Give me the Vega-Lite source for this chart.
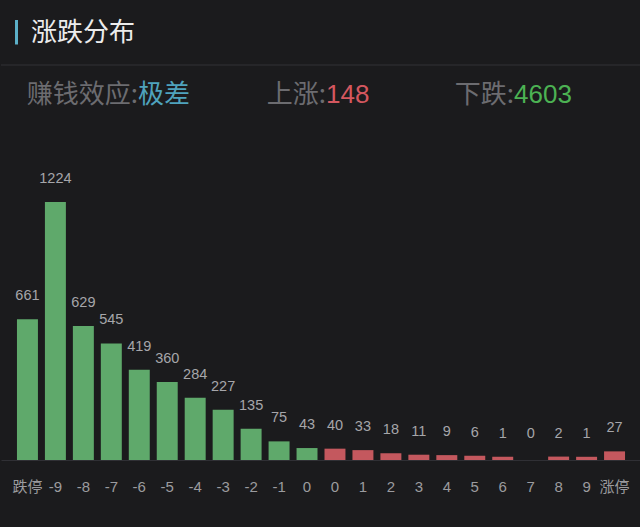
{
  "$schema": "https://vega.github.io/schema/vega-lite/v6.json",
  "background": "#1b1b1d",
  "padding": {"left": 0, "right": 0, "top": 0, "bottom": 40},
  "spacing": 0,
  "config": {
    "view": {"stroke": null},
    "concat": {"spacing": 0},
    "font": "Liberation Sans, Noto Sans CJK SC"
  },
  "datasets": {
    "bins": [
      {"bin": "跌停", "count": 661, "side": "down"},
      {"bin": "-9", "count": 1224, "side": "down"},
      {"bin": "-8", "count": 629, "side": "down"},
      {"bin": "-7", "count": 545, "side": "down"},
      {"bin": "-6", "count": 419, "side": "down"},
      {"bin": "-5", "count": 360, "side": "down"},
      {"bin": "-4", "count": 284, "side": "down"},
      {"bin": "-3", "count": 227, "side": "down"},
      {"bin": "-2", "count": 135, "side": "down"},
      {"bin": "-1", "count": 75, "side": "down"},
      {"bin": "-0", "count": 43, "side": "down"},
      {"bin": "+0", "count": 40, "side": "up"},
      {"bin": "1", "count": 33, "side": "up"},
      {"bin": "2", "count": 18, "side": "up"},
      {"bin": "3", "count": 11, "side": "up"},
      {"bin": "4", "count": 9, "side": "up"},
      {"bin": "5", "count": 6, "side": "up"},
      {"bin": "6", "count": 1, "side": "up"},
      {"bin": "7", "count": 0, "side": "up"},
      {"bin": "8", "count": 2, "side": "up"},
      {"bin": "9", "count": 1, "side": "up"},
      {"bin": "涨停", "count": 27, "side": "up"}
    ],
    "stats": [
      {"stat": "赚钱效应", "label": "赚钱效应:", "value": "极差"},
      {"stat": "上涨", "label": "上涨:", "value": "148"},
      {"stat": "下跌", "label": "下跌:", "value": "4603"}
    ],
    "heading": [
      {"row": "title", "text": "涨跌分布", "anchor": "赚钱效应"}
    ],
    "divider": [
      {"row": "sep"}
    ]
  },
  "vconcat": [
    {
      "width": 640,
      "height": 126,
      "layer": [
        {
          "data": {"name": "divider"},
          "mark": {"type": "rule", "color": "#2b2b2e", "strokeWidth": 1.5, "yOffset": 2},
          "encoding": {
            "y": {"field": "row", "type": "nominal", "axis": null, "scale": {"type": "point", "domain": ["title", "sep", "stats"], "padding": 1.1}}
          }
        },
        {
          "data": {"name": "heading"},
          "mark": {"type": "rule", "color": "#5cb0c8", "strokeWidth": 3, "xOffset": -121.5, "yOffset": -11.5, "y2Offset": 13},
          "encoding": {
            "x": {"field": "anchor", "type": "nominal", "axis": null, "scale": {"type": "point", "domain": ["赚钱效应", "上涨", "下跌"], "padding": 0.7021, "align": 0.519}},
            "y": {"field": "row", "type": "nominal", "axis": null, "scale": {"type": "point", "domain": ["title", "sep", "stats"], "padding": 1.1}},
            "y2": {"field": "row"}
          }
        },
        {
          "data": {"name": "heading"},
          "mark": {"type": "text", "align": "right", "baseline": "middle", "dx": -3, "dy": 1.5, "fontSize": 26, "color": "#ececec", "font": "Noto Sans CJK SC"},
          "encoding": {
            "x": {"field": "anchor", "type": "nominal", "axis": null},
            "y": {"field": "row", "type": "nominal", "axis": null},
            "text": {"field": "text"}
          }
        },
        {
          "data": {"name": "stats"},
          "mark": {"type": "text", "align": "right", "baseline": "middle", "fontSize": 26, "color": "#6c6c70", "font": "Noto Sans CJK SC"},
          "encoding": {
            "x": {"field": "stat", "type": "nominal", "axis": null},
            "y": {"datum": "stats", "type": "nominal", "axis": null},
            "text": {"field": "label"}
          }
        },
        {
          "data": {"name": "stats"},
          "mark": {"type": "text", "align": "left", "baseline": "middle", "fontSize": 26},
          "encoding": {
            "x": {"field": "stat", "type": "nominal", "axis": null},
            "y": {"datum": "stats", "type": "nominal", "axis": null},
            "text": {"field": "value"},
            "color": {
              "field": "stat",
              "type": "nominal",
              "legend": null,
              "scale": {"domain": ["赚钱效应", "上涨", "下跌"], "range": ["#4fa3bd", "#d4575f", "#4cb253"]}
            }
          }
        }
      ],
      "resolve": {"scale": {"x": "shared", "y": "shared"}}
    },
    {
      "width": 640,
      "height": 334,
      "data": {"name": "bins"},
      "encoding": {
        "x": {
          "field": "bin",
          "type": "ordinal",
          "sort": null,
          "scale": {"paddingInner": 0.25, "paddingOuter": 0.571},
          "axis": {
            "title": null,
            "ticks": false,
            "domain": true,
            "domainColor": "#303035",
            "labelAngle": 0,
            "labelFontSize": 15,
            "labelColor": "#9b9b9f",
            "labelPadding": 26,
            "labelBaseline": "middle",
            "labelFont": "Liberation Sans, Noto Sans CJK SC",
            "labelExpr": "datum.value == '-0' || datum.value == '+0' ? '0' : datum.value"
          }
        }
      },
      "layer": [
        {
          "mark": {"type": "bar", "yOffset": -3},
          "encoding": {
            "y": {"field": "count", "type": "quantitative", "scale": {"domain": [0, 1603], "nice": false, "zero": true}, "axis": null},
            "y2": {"datum": 0},
            "color": {
              "field": "side",
              "type": "nominal",
              "legend": null,
              "scale": {"domain": ["down", "up"], "range": ["#5fa96b", "#c4585e"]}
            },
            "opacity": {"condition": {"test": "datum.count == 0", "value": 0}, "value": 1}
          }
        },
        {
          "mark": {"type": "text", "baseline": "middle", "dy": -26, "fontSize": 14.5, "color": "#a6a6aa"},
          "encoding": {
            "y": {"field": "count", "type": "quantitative"},
            "text": {"field": "count", "type": "quantitative"}
          }
        }
      ]
    }
  ],
  "resolve": {"scale": {"x": "independent", "y": "independent", "color": "independent"}}
}
